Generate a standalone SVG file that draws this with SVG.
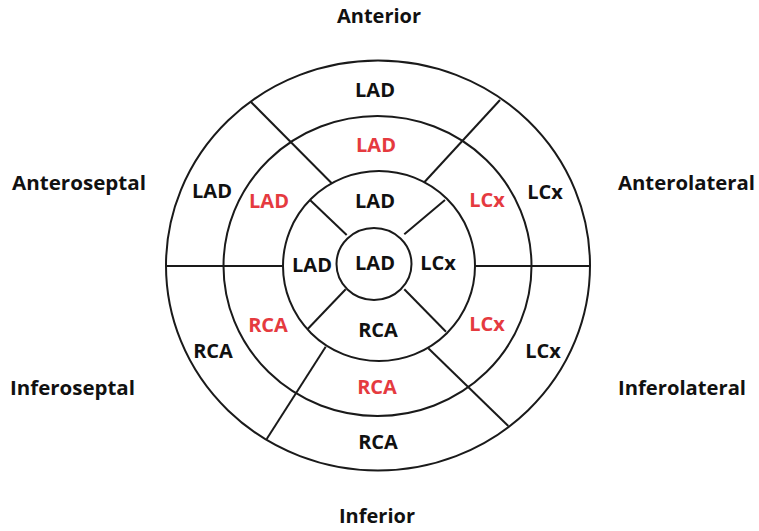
<svg xmlns="http://www.w3.org/2000/svg" width="759" height="531" viewBox="0 0 759 531">
<style>
.ring{fill:none;stroke:#1a1a1a;stroke-width:2}
.div{stroke:#1a1a1a;stroke-width:2;fill:none}
text{font-family:"Open Sans","Liberation Sans",sans-serif;font-weight:bold;font-size:20px;text-anchor:middle}
.k{fill:#111}
.r{fill:#e53a3f}
.side{text-anchor:start;fill:#111}
</style>
<rect width="759" height="531" fill="#fff"/>
<g id="rings">
<ellipse class="ring" cx="378" cy="265.5" rx="212" ry="205"/>
<ellipse class="ring" cx="377.5" cy="266" rx="154" ry="150"/>
<ellipse class="ring" cx="379" cy="266" rx="96" ry="95"/>
<ellipse class="ring" cx="374" cy="264" rx="37.5" ry="36"/>
</g>
<g id="connectors">
<line class="div" x1="166" y1="266" x2="283" y2="266"/>
<line class="div" x1="475" y1="266" x2="590" y2="266"/>
<line class="div" x1="250.7" y1="101.7" x2="331.7" y2="183.3"/>
<line class="div" x1="500" y1="100" x2="424.3" y2="182.3"/>
<line class="div" x1="325.7" y1="346.7" x2="266.7" y2="439"/>
<line class="div" x1="428.3" y1="348.3" x2="508.3" y2="426"/>
<line class="div" x1="310" y1="200" x2="346.7" y2="235"/>
<line class="div" x1="445" y1="200" x2="404.3" y2="234.3"/>
<line class="div" x1="345.7" y1="289.3" x2="307.7" y2="329"/>
<line class="div" x1="404.3" y1="289.3" x2="446" y2="331.7"/>
</g>
<g id="seg-outer-anterior"><text class="k" x="375" y="97">LAD</text></g>
<g id="seg-outer-anteroseptal"><text class="k" x="212" y="198">LAD</text></g>
<g id="seg-outer-anterolateral"><text class="k" x="545" y="199">LCx</text></g>
<g id="seg-outer-inferoseptal"><text class="k" x="213" y="358">RCA</text></g>
<g id="seg-outer-inferolateral"><text class="k" x="543" y="358">LCx</text></g>
<g id="seg-outer-inferior"><text class="k" x="378" y="449">RCA</text></g>
<g id="seg-mid-anterior"><text class="r" x="376" y="152">LAD</text></g>
<g id="seg-mid-anteroseptal"><text class="r" x="269" y="208">LAD</text></g>
<g id="seg-mid-anterolateral"><text class="r" x="487" y="207">LCx</text></g>
<g id="seg-mid-inferoseptal"><text class="r" x="268" y="332">RCA</text></g>
<g id="seg-mid-inferolateral"><text class="r" x="487" y="331">LCx</text></g>
<g id="seg-mid-inferior"><text class="r" x="377" y="394">RCA</text></g>
<g id="seg-apical-anterior"><text class="k" x="375" y="208">LAD</text></g>
<g id="seg-apical-septal"><text class="k" x="312" y="272">LAD</text></g>
<g id="seg-apical-lateral"><text class="k" x="438" y="270">LCx</text></g>
<g id="seg-apical-inferior"><text class="k" x="378" y="337">RCA</text></g>
<g id="seg-apex"><text class="k" x="375" y="270">LAD</text></g>
<g id="label-anterior"><text class="k" x="379" y="23">Anterior</text></g>
<g id="label-inferior"><text class="k" x="377" y="523">Inferior</text></g>
<g id="label-anteroseptal"><text class="side" x="12" y="190" textLength="134" lengthAdjust="spacingAndGlyphs">Anteroseptal</text></g>
<g id="label-inferoseptal"><text class="side" x="10" y="395" textLength="125" lengthAdjust="spacingAndGlyphs">Inferoseptal</text></g>
<g id="label-anterolateral"><text class="side" x="618" y="190" textLength="137" lengthAdjust="spacingAndGlyphs">Anterolateral</text></g>
<g id="label-inferolateral"><text class="side" x="618" y="395" textLength="128" lengthAdjust="spacingAndGlyphs">Inferolateral</text></g>
</svg>
